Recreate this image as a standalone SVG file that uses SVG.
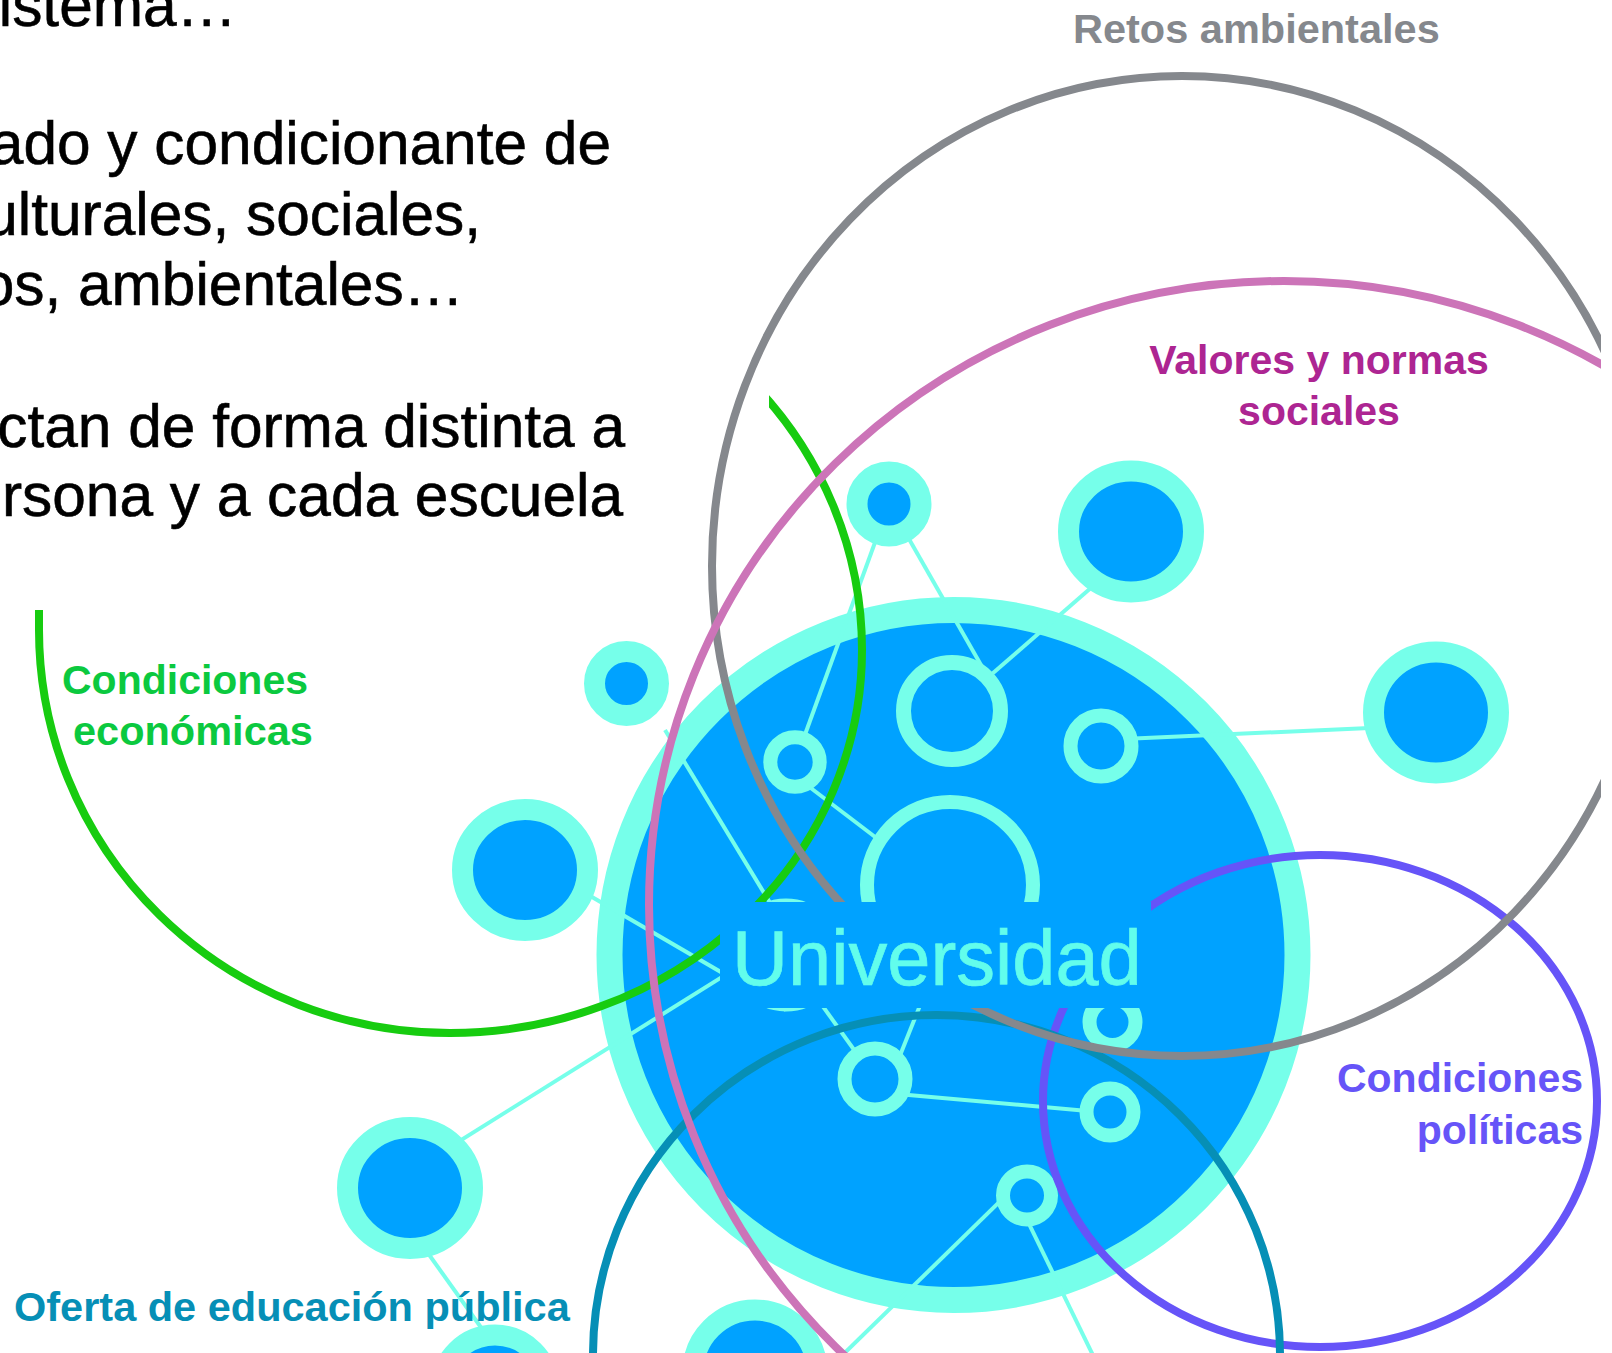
<svg xmlns="http://www.w3.org/2000/svg" width="1612" height="1353" viewBox="0 0 1612 1353">
<defs>
<style>
text{font-family:"Liberation Sans",Arial,Helvetica,sans-serif}
.body{font-size:60.4px;fill:#000;stroke:#000;stroke-width:.6px;text-anchor:end}
.lab{font-size:41.5px;font-weight:700}
.n{fill:#00A2FF;stroke:#76FFEA}
.o{stroke-width:21}
.r{stroke-width:14}
.c{stroke:#76FFEA;stroke-width:4;fill:none}
.arc{fill:none;stroke-width:8}
</style>
<clipPath id="cut"><rect x="0" y="0" width="1601" height="1353"/></clipPath>
</defs>
<rect width="1612" height="1353" fill="#fff"/>
<g id="universidad-fondo"><ellipse class="n" cx="953.5" cy="955" rx="344" ry="345" stroke-width="26"/></g>
<g id="connectors">
<line class="c" x1="889" y1="504" x2="795" y2="762"/>
<line class="c" x1="889" y1="504" x2="985" y2="672"/>
<line class="c" x1="985" y1="680" x2="1131" y2="553"/>
<line class="c" x1="1101" y1="740" x2="1436" y2="725"/>
<line class="c" x1="795" y1="776" x2="950" y2="894"/>
<line class="c" x1="665" y1="730" x2="786" y2="929"/>
<line class="c" x1="525" y1="858" x2="786" y2="1010"/>
<line class="c" x1="410" y1="1172" x2="786" y2="937"/>
<line class="c" x1="786" y1="955" x2="875" y2="1079"/>
<line class="c" x1="885" y1="1093" x2="935" y2="968"/>
<line class="c" x1="875" y1="1092" x2="1110" y2="1113"/>
<line class="c" x1="1027" y1="1175" x2="820" y2="1377"/>
<line class="c" x1="1015" y1="1195" x2="1105" y2="1380"/>
<line class="c" x1="410" y1="1228" x2="495" y2="1347"/>
</g>
<g id="nodo-a"><circle class="n o" cx="889" cy="504" r="32"/></g>
<g id="nodo-b"><ellipse class="n o" cx="1131" cy="531.5" rx="62.5" ry="60.5"/></g>
<g id="nodo-c"><circle class="n o" cx="626.5" cy="683.5" r="32"/></g>
<g id="nodo-d"><ellipse class="n o" cx="525" cy="870" rx="62.5" ry="60.5"/></g>
<g id="nodo-e"><ellipse class="n o" cx="1436" cy="712.5" rx="62.5" ry="60.5"/></g>
<g id="nodo-f"><ellipse class="n o" cx="410" cy="1188" rx="62.5" ry="60.5"/></g>
<g id="nodo-g"><circle class="n o" cx="495" cy="1389" r="54"/></g>
<g id="nodo-h"><ellipse class="n o" cx="755" cy="1372" rx="62" ry="62"/></g>
<g id="nodo-i"><circle class="n" stroke-width="15" cx="952" cy="711" r="48.5"/></g>
<g id="nodo-j"><circle class="n r" cx="1101" cy="746" r="30.5"/></g>
<g id="nodo-k"><circle class="n r" cx="795" cy="762" r="24.7"/></g>
<g id="nodo-l"><circle class="n r" cx="950" cy="885" r="83"/></g>
<g id="nodo-m"><circle class="n" stroke-width="15" cx="786" cy="955" r="49"/></g>
<g id="nodo-n"><circle class="n r" cx="1112.5" cy="1022" r="23"/></g>
<g id="nodo-o"><circle class="n r" cx="875" cy="1079" r="30.5"/></g>
<g id="nodo-p"><circle class="n r" cx="1110" cy="1112" r="23.5"/></g>
<g id="nodo-q"><circle class="n r" cx="1027" cy="1195.5" r="24"/></g>

<g id="condiciones-economicas-arco"><path class="arc" stroke="#17CC10" stroke-width="8.5" d="M39 590 L39 630 A411 403 0 0 0 450 1033 A412 383 0 0 0 862 650 A412 393 0 0 0 450 257"/></g>
<rect id="caja-texto" x="0" y="0" width="769" height="610" fill="#fff"/>
<g id="condiciones-politicas-arco"><ellipse class="arc" stroke="#6654F8" cx="1320" cy="1101" rx="277" ry="246"/></g>
<g id="oferta-arco"><ellipse class="arc" stroke="#068FB6" cx="936.5" cy="1355" rx="343.5" ry="340"/></g>
<g id="retos-arco" clip-path="url(#cut)"><ellipse class="arc" stroke="#85888D" cx="1182" cy="566" rx="470" ry="490"/></g>
<g id="valores-arco" clip-path="url(#cut)"><ellipse class="arc" stroke="#CC74B8" cx="1284" cy="905" rx="635" ry="624"/></g>

<g id="universidad">
<rect x="720" y="902" width="431" height="106" fill="#00A2FF"/>
<text x="732" y="985" font-size="77.6" fill="#62FDEC" stroke="#62FDEC" stroke-width=".7">Universidad</text>
</g>
<g id="texto">
<text class="body" x="237" y="26">istema…</text>
<text class="body" x="611" y="164">ado y condicionante de</text>
<text class="body" x="481" y="235">ulturales, sociales,</text>
<text class="body" x="464" y="305">os, ambientales…</text>
<text class="body" x="625" y="447">ctan de forma distinta a</text>
<text class="body" x="623" y="516">ersona y a cada escuela</text>
</g>
<g id="etiquetas">
<text class="lab" fill="#85888D" x="1073" y="43">Retos ambientales</text>
<text class="lab" style="font-size:41px" fill="#AD2592" x="1319" y="374" text-anchor="middle">Valores y normas</text>
<text class="lab" style="font-size:41px" fill="#AD2592" x="1319" y="425" text-anchor="middle">sociales</text>
<text class="lab" style="font-size:41px" fill="#0BC93F" x="62" y="694">Condiciones</text>
<text class="lab" fill="#0BC93F" x="73" y="745">económicas</text>
<text class="lab" style="font-size:41px" fill="#6654F8" x="1583" y="1092" text-anchor="end">Condiciones</text>
<text class="lab" style="font-size:41px" fill="#6654F8" x="1583" y="1144" text-anchor="end">políticas</text>
<text class="lab" fill="#068FB6" x="14" y="1321">Oferta de educación pública</text>
</g>
</svg>
